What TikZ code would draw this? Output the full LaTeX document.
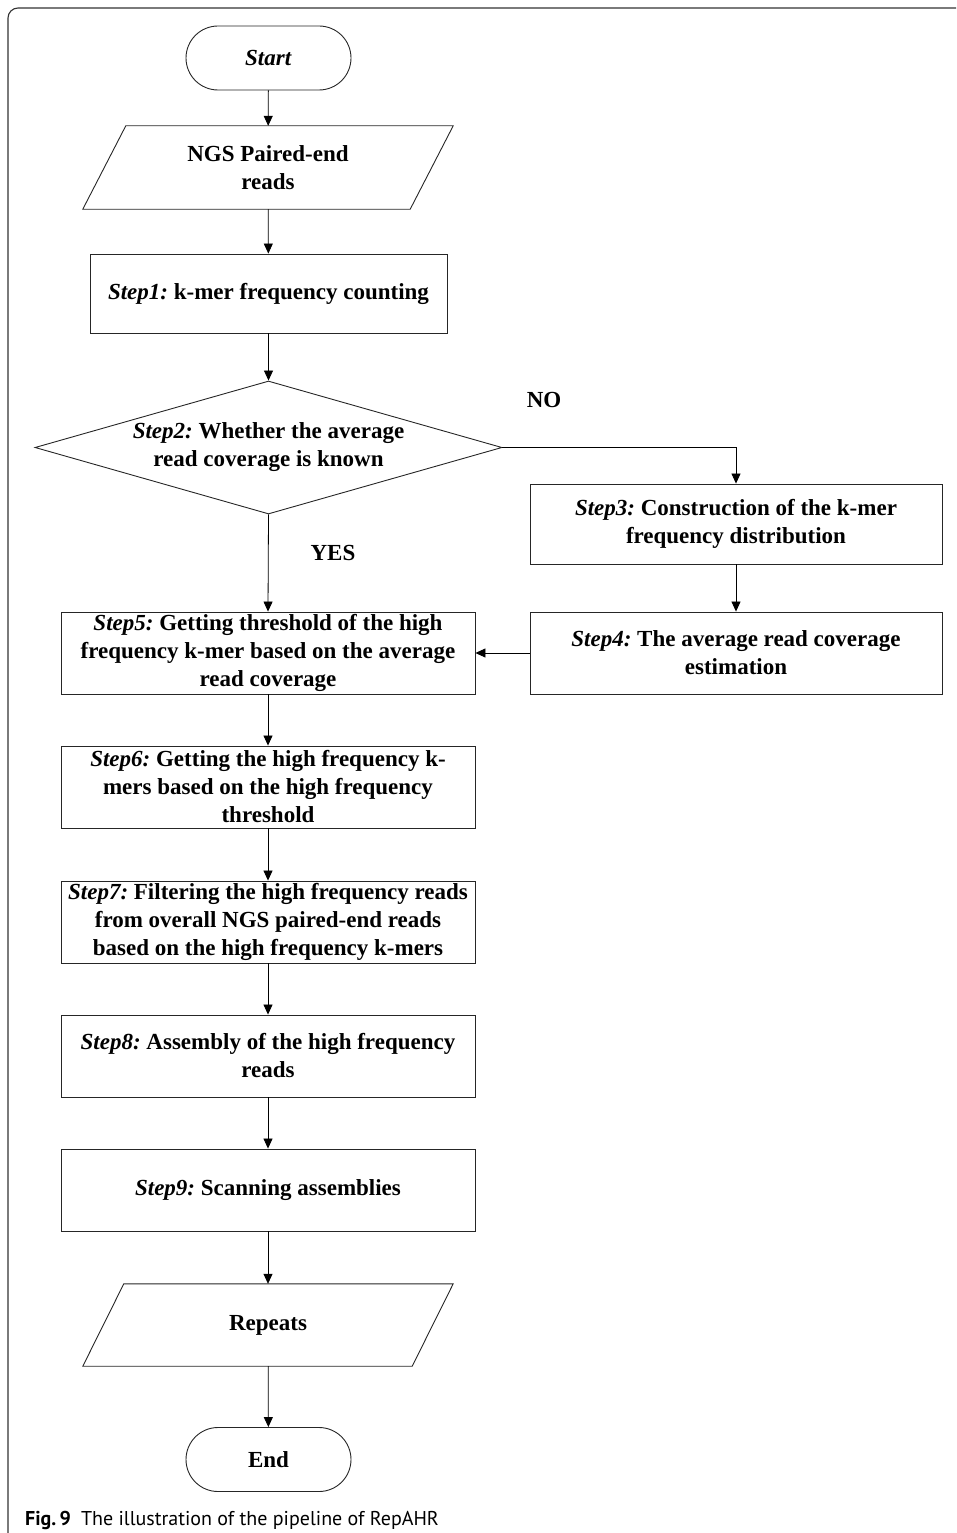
\documentclass[tikz,border=0pt]{standalone}
\usepackage{fontspec}
\setmainfont{Liberation Serif}
\newfontfamily\capfont{PT Sans}
\usetikzlibrary{shapes.geometric,arrows.meta,calc}
\begin{document}
\begin{tikzpicture}[x=1pt,y=-1pt,
  font=\fontsize{23}{28}\selectfont\bfseries,
  box/.style={draw=black!85, line width=0.9pt, rectangle, minimum height=81pt, inner sep=0pt, align=center},
  mainbox/.style={box, minimum width=414pt},
  sidebox/.style={box, minimum width=412pt},
  term/.style={draw=black!85, line width=0.9pt, rectangle, rounded corners=32pt, minimum width=165pt, minimum height=64pt, inner sep=0pt},
  para/.style={rectangle, minimum width=370pt, minimum height=83pt, inner sep=0pt, align=center},
  pgram/.style={draw=black!85, line width=0.9pt},
  flow/.style={draw=black, line width=0.8pt, -{Triangle[length=10pt,width=9pt]}},
  lbl/.style={inner sep=0pt}
]
\useasboundingbox (0,0) rectangle (956,1533);
\begin{scope}
\clip (0,0) rectangle (956,1533);
\draw[black!80, line width=1.1pt, rounded corners=10pt] (8,8) rectangle (990,1545);
\end{scope}

% nodes
\node[term] (start) at (268.5,58) {\textit{Start}};
\node[para] (ngs) at (268,167.5) {NGS Paired-end\\reads};
\draw[pgram] ($(ngs.north west)+(43,0)$) -- (ngs.north east) -- ($(ngs.south east)+(-43,0)$) -- (ngs.south west) -- cycle;
\node[box, minimum width=357pt, minimum height=79pt] (s1) at (268.5,293.5) {\textit{Step1:}~k-mer frequency counting};
\node[diamond, draw=black!85, line width=0.9pt, minimum width=467pt, minimum height=133pt, inner sep=0pt] (s2) at (268.5,447.5) {};
\node[lbl, align=center] (s2t) at (s2.center) {\textit{Step2:}~Whether the average\\read coverage is known};
\node[sidebox, minimum height=80pt] (s3) at (736,524) {\textit{Step3:}~Construction of the k-mer\\frequency distribution};
\node[sidebox, minimum height=82pt] (s4) at (736,653) {\textit{Step4:}~The average read coverage\\estimation};
\node[mainbox, minimum height=82pt] (s5) at (268,653) {\textit{Step5:}~Getting threshold of the high\\frequency k-mer based on the average\\read coverage};
\node[mainbox, minimum height=82pt] (s6) at (268,787) {\textit{Step6:}~Getting the high frequency k-\\mers based on the high frequency\\threshold};
\node[mainbox, minimum height=82pt] (s7) at (268,922) {\textit{Step7:}~Filtering the high frequency reads\\from overall NGS paired-end reads\\based on the high frequency k-mers};
\node[mainbox, minimum height=82pt] (s8) at (268,1056) {\textit{Step8:}~Assembly of the high frequency\\reads};
\node[mainbox, minimum height=82pt] (s9) at (268,1190) {\textit{Step9:}~Scanning assemblies};
\node[para, minimum height=82pt] (rep) at (268,1325) {Repeats};
\draw[pgram] ($(rep.north west)+(41,0)$) -- (rep.north east) -- ($(rep.south east)+(-41,0)$) -- (rep.south west) -- cycle;
\node[term] (end) at (268.5,1459.5) {End};

% labels
\node[lbl] (no) at (544,400) {NO};
\node[lbl] (yes) at (333,553) {YES};

% connectors
\draw[flow] (start) -- (ngs);
\draw[flow] (ngs) -- (s1);
\draw[flow] (s1) -- (s2);
\draw[flow] (s2.east) -| (s3.north);
\draw[flow] (s2.south) -- (s5.north);
\draw[flow] (s3) -- (s4);
\draw[flow] (s4) -- (s5);
\draw[flow] (s5) -- (s6);
\draw[flow] (s6) -- (s7);
\draw[flow] (s7) -- (s8);
\draw[flow] (s8) -- (s9);
\draw[flow] (s9) -- (rep);
\draw[flow] (rep) -- (end);

% caption
\node[anchor=base west, inner sep=0pt, font=\capfont\fontsize{20}{24}\selectfont] (cap) at (25,1525) {\textbf{Fig.\,9}\enspace The illustration of the pipeline of RepAHR};
\end{tikzpicture}
\end{document}
